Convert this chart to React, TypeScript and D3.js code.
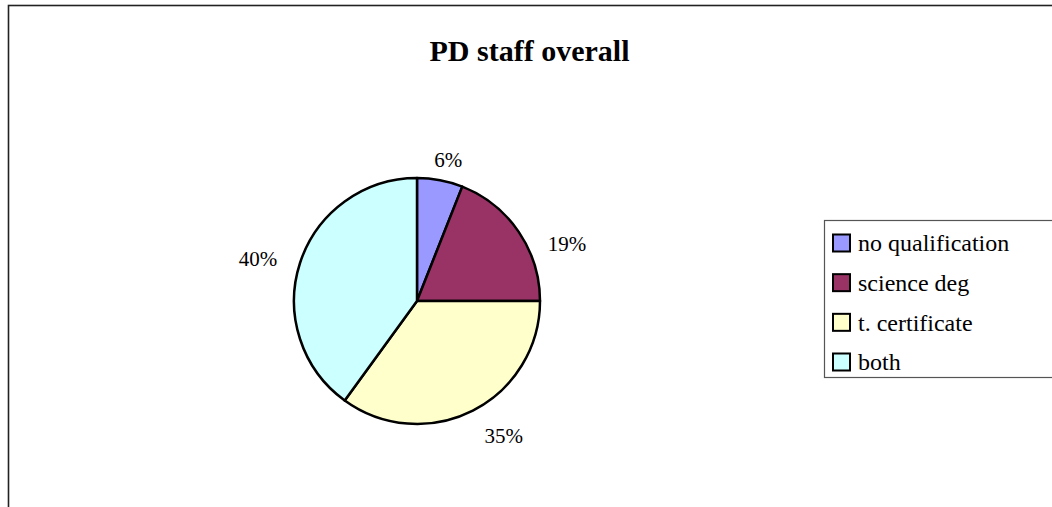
import { useEffect, useRef } from 'react'
import * as d3 from 'd3'

const categories = ['no qualification', 'science deg', 't. certificate', 'both']
const values = [6, 19, 35, 40]
const colors = ['#9999ff', '#993366', '#ffffcc', '#ccffff']
// label nudges relative to the arc centroid (px)
const labelNudge: Array<[number, number]> = [[4, 1], [30, 24], [21, 5], [-21, 2]]

const W = 1052
const H = 507
const serif = 'Liberation Serif, Times New Roman, serif'

export default function App() {
  const svgRef = useRef<SVGSVGElement>(null)

  useEffect(() => {
    if (!svgRef.current) return
    const svg = d3.select(svgRef.current)
    svg.selectAll('*').remove()

    // outer chart border (runs off the right/bottom)
    svg.append('rect')
      .attr('x', 8.5).attr('y', 5.5)
      .attr('width', W + 20).attr('height', H + 20)
      .attr('fill', 'white')
      .attr('stroke', '#222')
      .attr('stroke-width', 1.6)

    svg.append('text')
      .attr('x', 529.5).attr('y', 61)
      .attr('text-anchor', 'middle')
      .attr('font-family', serif)
      .attr('font-size', 30)
      .attr('font-weight', 'bold')
      .text('PD staff overall')

    const cx = 417
    const cy = 301
    const r = 123

    const g = svg.append('g').attr('transform', `translate(${cx},${cy})`)

    const pie = d3.pie<number>().value(d => d).sort(null)
    const arcs = pie(values)
    const arc = d3.arc<d3.PieArcDatum<number>>().innerRadius(0).outerRadius(r)
    const labelArc = d3.arc<d3.PieArcDatum<number>>().innerRadius(290).outerRadius(0)

    g.selectAll('path')
      .data(arcs)
      .enter()
      .append('path')
      .attr('d', arc)
      .attr('fill', (_d, i) => colors[i])
      .attr('stroke', 'black')
      .attr('stroke-width', 2.5)
      .attr('stroke-linejoin', 'round')

    g.selectAll('text.pct')
      .data(arcs)
      .enter()
      .append('text')
      .attr('class', 'pct')
      .attr('x', (d, i) => labelArc.centroid(d)[0] + labelNudge[i][0])
      .attr('y', (d, i) => labelArc.centroid(d)[1] + labelNudge[i][1])
      .attr('dy', '0.35em')
      .attr('text-anchor', 'middle')
      .attr('font-family', serif)
      .attr('font-size', 21)
      .text(d => `${d.data}%`)

    // legend
    const lg = svg.append('g')
    lg.append('rect')
      .attr('x', 824.5).attr('y', 220.5)
      .attr('width', 300).attr('height', 157)
      .attr('fill', 'white')
      .attr('stroke', '#555')
      .attr('stroke-width', 1.2)

    const rowY = d3.scalePoint<string>().domain(categories).range([243, 362])

    const rows = lg.selectAll('g.row')
      .data(categories)
      .enter()
      .append('g')
      .attr('class', 'row')
      .attr('transform', d => `translate(0,${rowY(d)})`)

    rows.append('rect')
      .attr('x', 833).attr('y', -8.5)
      .attr('width', 17).attr('height', 17)
      .attr('fill', (_d, i) => colors[i])
      .attr('stroke', 'black')
      .attr('stroke-width', 2)

    rows.append('text')
      .attr('x', 858).attr('y', 0)
      .attr('dy', '0.35em')
      .attr('font-family', serif)
      .attr('font-size', 24)
      .text(d => d)
  }, [])

  return (
    <svg
      ref={svgRef}
      width={W}
      height={H}
      style={{ position: 'absolute', left: 0, top: 0, background: 'white' }}
    />
  )
}
